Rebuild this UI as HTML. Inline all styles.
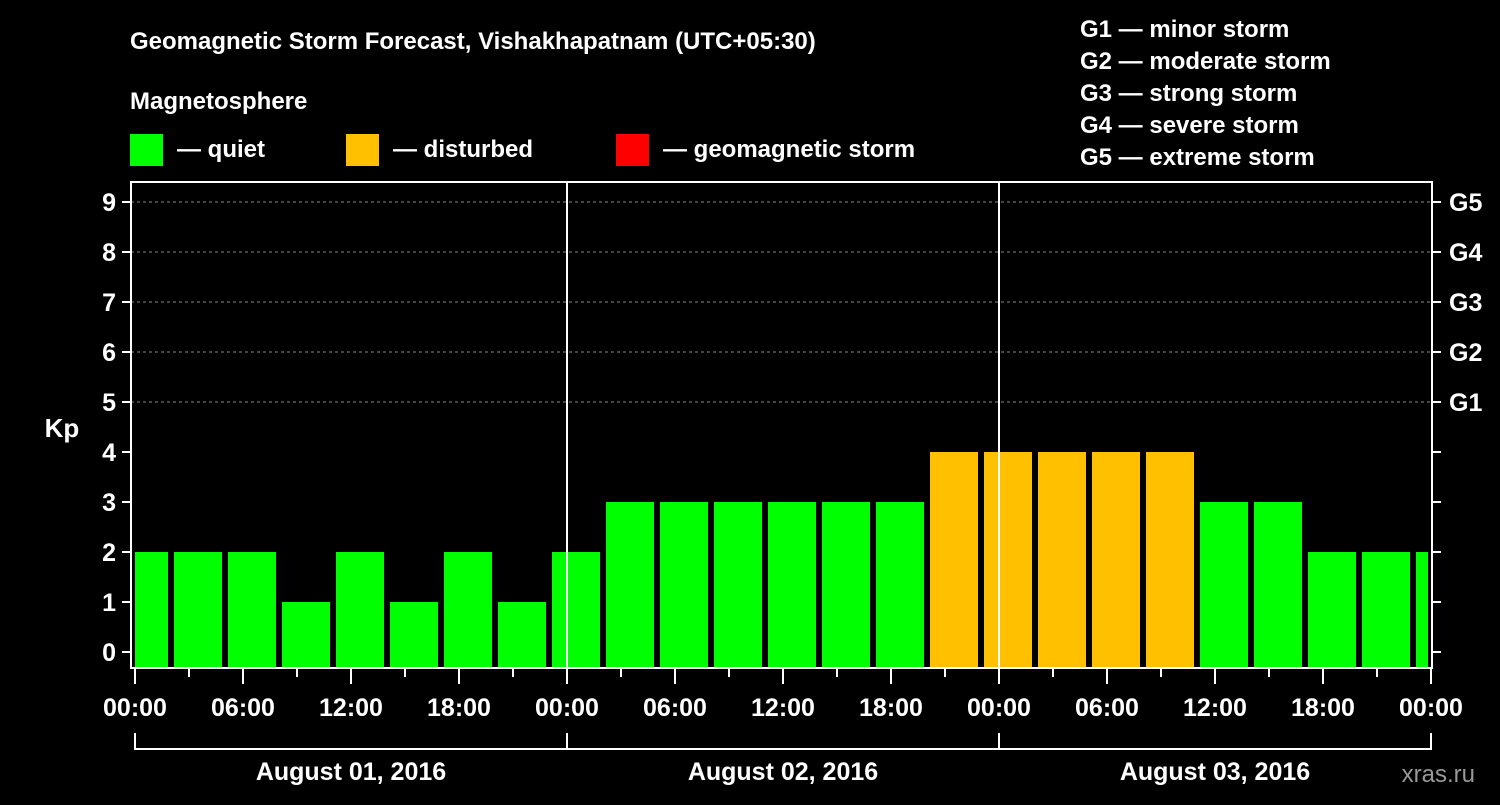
<!DOCTYPE html>
<html><head><meta charset="utf-8"><style>
body{margin:0;background:#000;width:1500px;height:800px;overflow:hidden}
svg text{font-family:"Liberation Sans",sans-serif;font-weight:bold;fill:#fff}
</style></head><body>
<svg id="c" width="1500" height="800">
<text x="130" y="49" font-size="24">Geomagnetic Storm Forecast, Vishakhapatnam (UTC+05:30)</text>
<text x="130" y="109" font-size="24">Magnetosphere</text>
<rect x="130" y="134" width="33" height="32" fill="#00ff00"/>
<text x="177" y="157" font-size="24">— quiet</text>
<rect x="346" y="134" width="33" height="32" fill="#ffc000"/>
<text x="393" y="157" font-size="24">— disturbed</text>
<rect x="616" y="134" width="33" height="32" fill="#ff0000"/>
<text x="663" y="157" font-size="24">— geomagnetic storm</text>
<g font-size="24">
<text x="1080" y="37">G1 — minor storm</text>
<text x="1080" y="69">G2 — moderate storm</text>
<text x="1080" y="101">G3 — strong storm</text>
<text x="1080" y="133">G4 — severe storm</text>
<text x="1080" y="165">G5 — extreme storm</text>
</g>
<text x="62" y="437" font-size="26" text-anchor="middle">Kp</text>
<text x="1475" y="782" font-size="24" text-anchor="end" fill="#888" style="fill:#999;font-weight:normal">xras.ru</text>
<g id="plot"></g>
</svg>
<script>
const kpValues=[2,2,2,1,2,1,2,1,2,3,3,3,3,3,3,4,4,4,4,4,3,3,2,2,2];
const yTicks=[0,1,2,3,4,5,6,7,8,9];
const gLabels=["G1","G2","G3","G4","G5"];
const xTickLabels=["00:00","06:00","12:00","18:00","00:00","06:00","12:00","18:00","00:00","06:00","12:00","18:00","00:00"];
const dayLabels=["August 01, 2016","August 02, 2016","August 03, 2016"];
const firstSlotHour=-1, slotHours=3;
const NS="http://www.w3.org/2000/svg";
const g=document.getElementById('plot');
const L=131,R=1432,T=182,B=668;
const x=h=>135+h*18;
const y=v=>652-v*50;
function mk(t,a,p){const e=document.createElementNS(NS,t);for(const k in a)e.setAttribute(k,a[k]);(p||g).appendChild(e);return e;}
// grid
for(let v=5;v<=9;v++){const l=mk('line',{x1:L,x2:R,y1:y(v),y2:y(v),stroke:'#888','stroke-dasharray':'3,3','stroke-width':1});

}
// bars
kpValues.forEach((v,i)=>{
 let h0=firstSlotHour+i*slotHours;
 let x0=Math.max(x(h0)+3,x(0)), x1=Math.min(x(h0+slotHours)-3,R-4);
 const r=mk('rect',{x:x0,y:y(v),width:x1-x0,height:B-y(v),fill:v>=5?'#ff0000':(v>=4?'#ffc000':'#00ff00')});
 
 
});
// day separators
for(let d=1;d<=2;d++){const l=mk('line',{x1:x(d*24),x2:x(d*24),y1:T,y2:B,stroke:'#fff','stroke-width':2});

}
// frame
const f=mk('rect',{x:L,y:T,width:R-L,height:B-T,fill:'none',stroke:'#fff','stroke-width':2});


// y ticks
yTicks.forEach(v=>{
 mk('line',{x1:122,x2:L,y1:y(v),y2:y(v),stroke:'#fff','stroke-width':2});
 mk('line',{x1:R,x2:R+9,y1:y(v),y2:y(v),stroke:'#fff','stroke-width':2});
 const t=mk('text',{x:116,y:y(v)+9,'font-size':25,'text-anchor':'end'});t.textContent=v;
 
 
});
gLabels.forEach((s,i)=>{const t=mk('text',{x:1449,y:y(5+i)+9,'font-size':25});t.textContent=s;
 
 });
// x ticks
for(let h=0;h<=72;h+=3){const major=h%6==0;mk('line',{x1:x(h),x2:x(h),y1:B,y2:B+(major?16:9),stroke:'#fff','stroke-width':2});}
xTickLabels.forEach((s,i)=>{const t=mk('text',{x:x(i*6),y:716,'font-size':25,'text-anchor':'middle'});t.textContent=s;
 
 });
// bracket
mk('line',{x1:x(0),x2:x(72),y1:749,y2:749,stroke:'#fff','stroke-width':2});
for(let d=0;d<=3;d++)mk('line',{x1:x(d*24),x2:x(d*24),y1:733,y2:750,stroke:'#fff','stroke-width':2});
dayLabels.forEach((s,i)=>{const t=mk('text',{x:x(i*24+12),y:780,'font-size':25,'text-anchor':'middle'});t.textContent=s;
 
 });
</script>
</body></html>
